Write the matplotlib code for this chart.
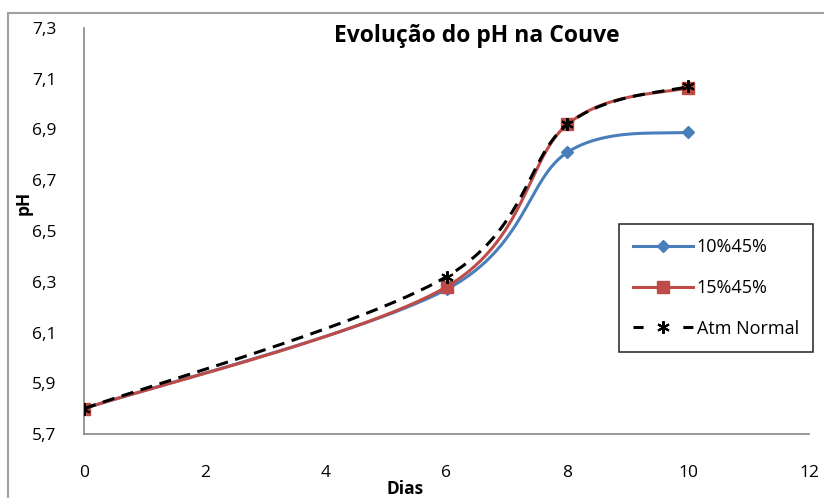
import numpy as np
import matplotlib
matplotlib.use("Agg")
import matplotlib.pyplot as plt
from matplotlib.patches import Rectangle
from matplotlib.lines import Line2D

days = [0, 6, 8, 10]
ph_10_45 = [5.80, 6.27, 6.81, 6.89]
ph_15_45 = [5.80, 6.28, 6.92, 7.065]
ph_atm = [5.80, 6.32, 6.92, 7.07]
series_names = ["10%45%", "15%45%", "Atm Normal"]
title = "Evolução do pH na Couve"
xlabel = "Dias"
ylabel = "pH"
yticks = [5.7, 5.9, 6.1, 6.3, 6.5, 6.7, 6.9, 7.1, 7.3]
xticks = [0, 2, 4, 6, 8, 10, 12]

plt.rcParams['font.family'] = ['Open Sans', 'DejaVu Sans']


def smooth(x, y, n=60):
    x = np.asarray(x, float)
    y = np.asarray(y, float)
    P = np.column_stack([x, y])
    out = []
    for i in range(len(P) - 1):
        p0 = P[i - 1] if i > 0 else P[i]
        p1 = P[i]
        p2 = P[i + 1]
        p3 = P[i + 2] if i + 2 < len(P) else P[i + 1]
        c1 = p1 + (p2 - p0) / 6.0
        c2 = p2 - (p3 - p1) / 6.0
        t = np.linspace(0, 1, n)[:, None]
        b = ((1 - t) ** 3) * p1 + 3 * ((1 - t) ** 2) * t * c1 + 3 * (1 - t) * t ** 2 * c2 + t ** 3 * p2
        out.append(b if i == 0 else b[1:])
    B = np.vstack(out)
    return B[:, 0], B[:, 1]


fig = plt.figure(figsize=(8.24, 4.98), dpi=100)
W, H = 824, 498
ax = fig.add_axes([84 / W, 1 - 434 / H, (809 - 84) / W, (434 - 28) / H])

blue = "#4A7EBB"
red = "#BE4B48"

xs, ys = smooth(days, ph_10_45)
ax.plot(xs, ys, color=blue, lw=2.2, zorder=3)
ax.plot(days, ph_10_45, ls='none', marker='D', ms=6.5, color=blue, zorder=4)

xs, ys = smooth(days, ph_15_45)
ax.plot(xs, ys, color=red, lw=2.2, zorder=3)
ax.plot(days, ph_15_45, ls='none', marker='s', ms=8, color=red, zorder=4)

xs, ys = smooth(days, ph_atm)
ax.plot(xs, ys, color='black', lw=2.2, ls=(0, (4, 2.5)), zorder=5)
ax.plot(days, ph_atm, ls='none', marker=(6, 2, 0), ms=9, mew=1.5, color='black', zorder=6)

ax.set_xlim(0, 12)
ax.set_ylim(5.7, 7.3)
ax.set_xticks(xticks)
ax.set_xticklabels([str(v) for v in xticks])
ax.set_yticks(yticks)
ax.set_yticklabels([f"{v:.1f}".replace('.', ',') for v in yticks])
ax.tick_params(axis='both', length=0, labelsize=12.5, colors='black')
ax.tick_params(axis='x', pad=22)
ax.tick_params(axis='y', pad=20)
for s in ['top', 'right']:
    ax.spines[s].set_visible(False)
for s in ['left', 'bottom']:
    ax.spines[s].set_color('#868686')
    ax.spines[s].set_linewidth(1.2)

fig.text(477 / W, 1 - 36 / H, title, ha='center', va='center', fontsize=16.5, fontweight='bold')
fig.text(405 / W, 1 - 489 / H, xlabel, ha='center', va='center', fontsize=12.5, fontweight='bold')
fig.text(24 / W, 1 - 203 / H, ylabel, ha='center', va='center', fontsize=12.5, fontweight='bold', rotation=90)

handles = [
    Line2D([], [], color=blue, lw=2.2, marker='D', ms=6.5),
    Line2D([], [], color=red, lw=2.2, marker='s', ms=8),
    Line2D([], [], color='black', lw=2.2, ls=(0, (3.3, 13)), marker=(6, 2, 0), ms=9, mew=1.5),
]
leg = fig.legend(handles, series_names, loc='upper left',
                 bbox_to_anchor=(619 / W, 1 - 224 / H), fontsize=13,
                 frameon=True, fancybox=False, edgecolor='black',
                 handlelength=3.3, labelspacing=1.25, borderpad=0.8, handletextpad=0.2,
                 borderaxespad=0)
leg.get_frame().set_linewidth(1.2)

fig.patches.append(Rectangle((8 / W, -0.1), 1.2, 1 - 13 / H + 0.1, transform=fig.transFigure,
                             fill=False, edgecolor='#A0A0A0', lw=1.5))

fig.savefig("out.png", dpi=100)
